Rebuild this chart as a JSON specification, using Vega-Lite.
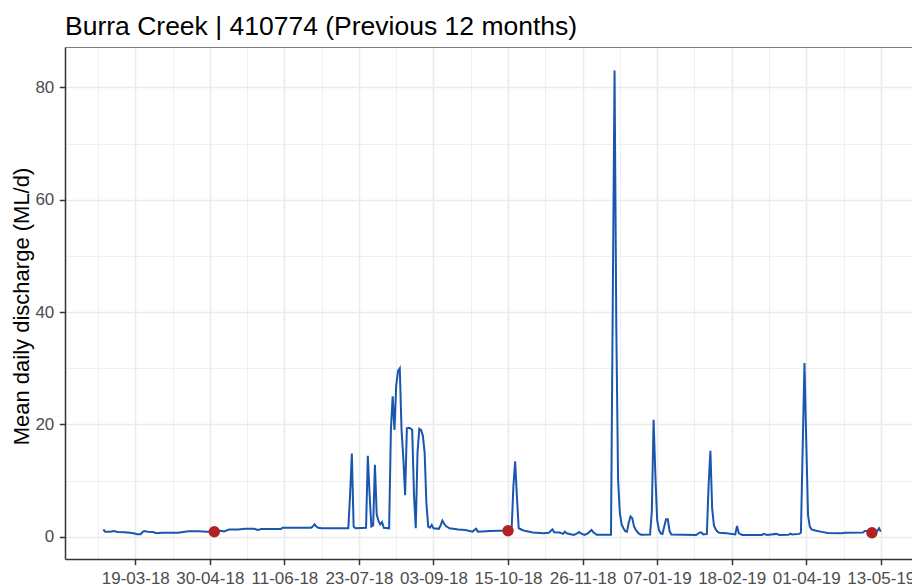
{
  "$schema": "https://vega.github.io/schema/vega-lite/v6.json",
  "width": 847,
  "height": 512,
  "autosize": {"type": "none"},
  "padding": {"left": 65, "top": 47, "right": 0, "bottom": 26},
  "background": "white",
  "title": {
    "text": "Burra Creek | 410774 (Previous 12 months)",
    "anchor": "start",
    "frame": "group",
    "font": "Liberation Sans",
    "fontSize": 26.5,
    "fontWeight": "normal",
    "color": "#000000",
    "baseline": "alphabetic",
    "offset": 14,
    "dy": 28
  },
  "config": {
    "view": {"stroke": null},
    "axis": {"labelFont": "Liberation Sans", "titleFont": "Liberation Sans"}
  },
  "datasets": {
    "flow": [
      {"date": "2018-03-01", "q": 1.3},
      {"date": "2018-03-02", "q": 0.9},
      {"date": "2018-03-05", "q": 0.9},
      {"date": "2018-03-07", "q": 1.0},
      {"date": "2018-03-09", "q": 0.85},
      {"date": "2018-03-13", "q": 0.8},
      {"date": "2018-03-16", "q": 0.7},
      {"date": "2018-03-18", "q": 0.6},
      {"date": "2018-03-20", "q": 0.45},
      {"date": "2018-03-22", "q": 0.45},
      {"date": "2018-03-23", "q": 0.8},
      {"date": "2018-03-24", "q": 1.0},
      {"date": "2018-03-26", "q": 0.9},
      {"date": "2018-03-29", "q": 0.85},
      {"date": "2018-03-30", "q": 0.7},
      {"date": "2018-03-31", "q": 0.6},
      {"date": "2018-04-03", "q": 0.7},
      {"date": "2018-04-08", "q": 0.7},
      {"date": "2018-04-12", "q": 0.7},
      {"date": "2018-04-15", "q": 0.85},
      {"date": "2018-04-18", "q": 0.95},
      {"date": "2018-04-24", "q": 0.95},
      {"date": "2018-04-28", "q": 0.9},
      {"date": "2018-05-02", "q": 0.9},
      {"date": "2018-05-04", "q": 0.95},
      {"date": "2018-05-06", "q": 1.05},
      {"date": "2018-05-08", "q": 0.95},
      {"date": "2018-05-09", "q": 1.05},
      {"date": "2018-05-11", "q": 1.3},
      {"date": "2018-05-16", "q": 1.3},
      {"date": "2018-05-20", "q": 1.4},
      {"date": "2018-05-25", "q": 1.4},
      {"date": "2018-05-27", "q": 1.2},
      {"date": "2018-05-29", "q": 1.35},
      {"date": "2018-06-09", "q": 1.35},
      {"date": "2018-06-10", "q": 1.6},
      {"date": "2018-06-26", "q": 1.6},
      {"date": "2018-06-27", "q": 1.8},
      {"date": "2018-06-28", "q": 2.2},
      {"date": "2018-06-29", "q": 1.8},
      {"date": "2018-06-30", "q": 1.6},
      {"date": "2018-07-02", "q": 1.5},
      {"date": "2018-07-17", "q": 1.5},
      {"date": "2018-07-18", "q": 7.4},
      {"date": "2018-07-19", "q": 14.8},
      {"date": "2018-07-20", "q": 1.8},
      {"date": "2018-07-21", "q": 1.5},
      {"date": "2018-07-27", "q": 1.6},
      {"date": "2018-07-28", "q": 14.4},
      {"date": "2018-07-29", "q": 7.5},
      {"date": "2018-07-30", "q": 1.8},
      {"date": "2018-07-31", "q": 2.0},
      {"date": "2018-08-01", "q": 12.8},
      {"date": "2018-08-02", "q": 4.0},
      {"date": "2018-08-03", "q": 2.8},
      {"date": "2018-08-04", "q": 2.2},
      {"date": "2018-08-05", "q": 2.6},
      {"date": "2018-08-06", "q": 1.6},
      {"date": "2018-08-09", "q": 1.5},
      {"date": "2018-08-10", "q": 19},
      {"date": "2018-08-11", "q": 25},
      {"date": "2018-08-12", "q": 19},
      {"date": "2018-08-13", "q": 27},
      {"date": "2018-08-14", "q": 29.5},
      {"date": "2018-08-15", "q": 30},
      {"date": "2018-08-16", "q": 19},
      {"date": "2018-08-17", "q": 14},
      {"date": "2018-08-18", "q": 7.4},
      {"date": "2018-08-19", "q": 19.3},
      {"date": "2018-08-20", "q": 19.4},
      {"date": "2018-08-21", "q": 19.3},
      {"date": "2018-08-22", "q": 19},
      {"date": "2018-08-23", "q": 7.5},
      {"date": "2018-08-24", "q": 1.5},
      {"date": "2018-08-25", "q": 15},
      {"date": "2018-08-26", "q": 19.2},
      {"date": "2018-08-27", "q": 19},
      {"date": "2018-08-28", "q": 18},
      {"date": "2018-08-29", "q": 15},
      {"date": "2018-08-30", "q": 6},
      {"date": "2018-08-31", "q": 1.8},
      {"date": "2018-09-01", "q": 1.6},
      {"date": "2018-09-02", "q": 2.1},
      {"date": "2018-09-03", "q": 1.5},
      {"date": "2018-09-06", "q": 1.4},
      {"date": "2018-09-07", "q": 2.0},
      {"date": "2018-09-08", "q": 2.85},
      {"date": "2018-09-09", "q": 2.3},
      {"date": "2018-09-10", "q": 1.9},
      {"date": "2018-09-12", "q": 1.5},
      {"date": "2018-09-17", "q": 1.3},
      {"date": "2018-09-21", "q": 1.2},
      {"date": "2018-09-25", "q": 0.9},
      {"date": "2018-09-27", "q": 1.4},
      {"date": "2018-09-28", "q": 0.9},
      {"date": "2018-10-05", "q": 1.0},
      {"date": "2018-10-10", "q": 1.05},
      {"date": "2018-10-15", "q": 1.07},
      {"date": "2018-10-17", "q": 1.2},
      {"date": "2018-10-18", "q": 8.9},
      {"date": "2018-10-19", "q": 13.4},
      {"date": "2018-10-20", "q": 7.1},
      {"date": "2018-10-21", "q": 1.5},
      {"date": "2018-10-23", "q": 1.2},
      {"date": "2018-10-25", "q": 1.0},
      {"date": "2018-10-29", "q": 0.75},
      {"date": "2018-11-04", "q": 0.6},
      {"date": "2018-11-07", "q": 0.7},
      {"date": "2018-11-09", "q": 1.3},
      {"date": "2018-11-10", "q": 0.8},
      {"date": "2018-11-13", "q": 0.75},
      {"date": "2018-11-15", "q": 0.5},
      {"date": "2018-11-16", "q": 0.9},
      {"date": "2018-11-17", "q": 0.6},
      {"date": "2018-11-21", "q": 0.3},
      {"date": "2018-11-23", "q": 0.6},
      {"date": "2018-11-24", "q": 0.85},
      {"date": "2018-11-25", "q": 0.6},
      {"date": "2018-11-27", "q": 0.3},
      {"date": "2018-11-29", "q": 0.6},
      {"date": "2018-12-01", "q": 1.2},
      {"date": "2018-12-02", "q": 0.8},
      {"date": "2018-12-04", "q": 0.35},
      {"date": "2018-12-12", "q": 0.35},
      {"date": "2018-12-13", "q": 42},
      {"date": "2018-12-14", "q": 83},
      {"date": "2018-12-15", "q": 37},
      {"date": "2018-12-16", "q": 10},
      {"date": "2018-12-17", "q": 4.2},
      {"date": "2018-12-18", "q": 2.2},
      {"date": "2018-12-19", "q": 1.5},
      {"date": "2018-12-20", "q": 1.0},
      {"date": "2018-12-21", "q": 0.9},
      {"date": "2018-12-22", "q": 2.5},
      {"date": "2018-12-23", "q": 3.6},
      {"date": "2018-12-24", "q": 3.3},
      {"date": "2018-12-25", "q": 1.8},
      {"date": "2018-12-26", "q": 1.2},
      {"date": "2018-12-27", "q": 0.8},
      {"date": "2018-12-28", "q": 0.5},
      {"date": "2018-12-29", "q": 0.35},
      {"date": "2019-01-03", "q": 0.4},
      {"date": "2019-01-04", "q": 4.5},
      {"date": "2019-01-05", "q": 20.8},
      {"date": "2019-01-06", "q": 11},
      {"date": "2019-01-07", "q": 3.0},
      {"date": "2019-01-08", "q": 1.2},
      {"date": "2019-01-09", "q": 0.6},
      {"date": "2019-01-10", "q": 0.5},
      {"date": "2019-01-11", "q": 1.8},
      {"date": "2019-01-12", "q": 3.1},
      {"date": "2019-01-13", "q": 3.1},
      {"date": "2019-01-14", "q": 1.0},
      {"date": "2019-01-15", "q": 0.4},
      {"date": "2019-01-29", "q": 0.3},
      {"date": "2019-01-31", "q": 0.75},
      {"date": "2019-02-01", "q": 0.75},
      {"date": "2019-02-02", "q": 0.4},
      {"date": "2019-02-04", "q": 0.5},
      {"date": "2019-02-05", "q": 9.2},
      {"date": "2019-02-06", "q": 15.3},
      {"date": "2019-02-07", "q": 5},
      {"date": "2019-02-08", "q": 2.0},
      {"date": "2019-02-09", "q": 1.3},
      {"date": "2019-02-10", "q": 0.9},
      {"date": "2019-02-11", "q": 0.7},
      {"date": "2019-02-15", "q": 0.6},
      {"date": "2019-02-20", "q": 0.4},
      {"date": "2019-02-21", "q": 1.9},
      {"date": "2019-02-22", "q": 0.6},
      {"date": "2019-02-24", "q": 0.3},
      {"date": "2019-03-07", "q": 0.3},
      {"date": "2019-03-08", "q": 0.5},
      {"date": "2019-03-10", "q": 0.3},
      {"date": "2019-03-15", "q": 0.5},
      {"date": "2019-03-17", "q": 0.3},
      {"date": "2019-03-22", "q": 0.35},
      {"date": "2019-03-23", "q": 0.55},
      {"date": "2019-03-24", "q": 0.4},
      {"date": "2019-03-28", "q": 0.5},
      {"date": "2019-03-29", "q": 0.7},
      {"date": "2019-03-30", "q": 16},
      {"date": "2019-03-31", "q": 30.9},
      {"date": "2019-04-01", "q": 17},
      {"date": "2019-04-02", "q": 3.9},
      {"date": "2019-04-03", "q": 1.8},
      {"date": "2019-04-04", "q": 1.3},
      {"date": "2019-04-06", "q": 1.1},
      {"date": "2019-04-09", "q": 0.9},
      {"date": "2019-04-13", "q": 0.65},
      {"date": "2019-04-21", "q": 0.6},
      {"date": "2019-04-23", "q": 0.7},
      {"date": "2019-05-03", "q": 0.75},
      {"date": "2019-05-04", "q": 1.0},
      {"date": "2019-05-06", "q": 1.0},
      {"date": "2019-05-08", "q": 0.75},
      {"date": "2019-05-10", "q": 0.8},
      {"date": "2019-05-11", "q": 1.0},
      {"date": "2019-05-12", "q": 1.5},
      {"date": "2019-05-13", "q": 0.9}
    ],
    "samples": [
      {"date": "2018-05-02T12:00:00Z", "q": 0.89},
      {"date": "2018-10-15T00:00:00Z", "q": 1.07},
      {"date": "2019-05-08T00:00:00Z", "q": 0.71}
    ]
  },
  "layer": [
    {
      "data": {"name": "flow"},
      "mark": {"type": "line", "color": "#1a56ad", "strokeWidth": 2},
      "encoding": {
        "x": {
          "field": "date",
          "type": "temporal",
          "scale": {
            "type": "utc",
            "domain": [
              {"year": 2018, "month": 2, "date": 7, "hours": 9, "minutes": 27, "utc": true},
              {"year": 2019, "month": 5, "date": 30, "hours": 13, "minutes": 55, "utc": true}
            ]
          },
          "axis": {
            "orient": "bottom",
            "title": null,
            "values": [
              {"year": 2018, "month": 3, "date": 19, "utc": true},
              {"year": 2018, "month": 4, "date": 30, "utc": true},
              {"year": 2018, "month": 6, "date": 11, "utc": true},
              {"year": 2018, "month": 7, "date": 23, "utc": true},
              {"year": 2018, "month": 9, "date": 3, "utc": true},
              {"year": 2018, "month": 10, "date": 15, "utc": true},
              {"year": 2018, "month": 11, "date": 26, "utc": true},
              {"year": 2019, "month": 1, "date": 7, "utc": true},
              {"year": 2019, "month": 2, "date": 18, "utc": true},
              {"year": 2019, "month": 4, "date": 1, "utc": true},
              {"year": 2019, "month": 5, "date": 13, "utc": true}
            ],
            "labelExpr": "utcFormat(datum.value, '%d-%m-%y')",
            "grid": true,
            "gridColor": "#ebebeb",
            "gridWidth": 1.6,
            "domainColor": "#333333",
            "domainWidth": 1.5,
            "tickColor": "#333333",
            "tickWidth": 1.5,
            "tickSize": 5.7,
            "labelFontSize": 17,
            "labelColor": "#4d4d4d",
            "labelPadding": 5.8,
            "labelFlush": false,
            "labelOverlap": false,
            "labelBound": false
          }
        },
        "y": {
          "field": "q",
          "type": "quantitative",
          "scale": {"domain": [-3.97, 87.18], "nice": false, "zero": false},
          "axis": {
            "orient": "left",
            "values": [0, 20, 40, 60, 80],
            "title": "Mean daily discharge (ML/d)",
            "titleFontSize": 22,
            "titleFontWeight": "normal",
            "titleColor": "#000000",
            "titleAngle": 270,
            "titleAlign": "center",
            "titleBaseline": "alphabetic",
            "titleX": -36.3,
            "titleY": 259,
            "grid": true,
            "gridColor": "#ebebeb",
            "gridWidth": 1.6,
            "domainColor": "#333333",
            "domainWidth": 1.5,
            "tickColor": "#333333",
            "tickWidth": 1.5,
            "tickSize": 5.7,
            "labelFontSize": 17,
            "labelColor": "#4d4d4d",
            "labelPadding": 5.5
          }
        }
      }
    },
    {
      "data": {"name": "samples"},
      "mark": {"type": "circle", "color": "#b22222", "size": 130, "opacity": 1},
      "encoding": {
        "x": {
          "field": "date",
          "type": "temporal",
          "scale": {
            "type": "utc",
            "domain": [
              {"year": 2018, "month": 2, "date": 7, "hours": 9, "minutes": 27, "utc": true},
              {"year": 2019, "month": 5, "date": 30, "hours": 13, "minutes": 55, "utc": true}
            ]
          },
          "axis": {
            "orient": "top",
            "title": null,
            "values": [
              {"year": 2018, "month": 2, "date": 26, "utc": true},
              {"year": 2018, "month": 4, "date": 9, "utc": true},
              {"year": 2018, "month": 5, "date": 21, "utc": true},
              {"year": 2018, "month": 7, "date": 2, "utc": true},
              {"year": 2018, "month": 8, "date": 13, "utc": true},
              {"year": 2018, "month": 9, "date": 24, "utc": true},
              {"year": 2018, "month": 11, "date": 5, "utc": true},
              {"year": 2018, "month": 12, "date": 17, "utc": true},
              {"year": 2019, "month": 1, "date": 28, "utc": true},
              {"year": 2019, "month": 3, "date": 11, "utc": true},
              {"year": 2019, "month": 4, "date": 22, "utc": true}
            ],
            "labels": false,
            "ticks": false,
            "grid": true,
            "gridColor": "#ebebeb",
            "gridWidth": 0.8,
            "domain": true,
            "domainColor": "#7f7f7f",
            "domainWidth": 1.2
          }
        },
        "y": {
          "field": "q",
          "type": "quantitative",
          "scale": {"domain": [-3.97, 87.18], "nice": false, "zero": false},
          "axis": {
            "orient": "right",
            "title": null,
            "values": [10, 30, 50, 70],
            "labels": false,
            "ticks": false,
            "domain": false,
            "grid": true,
            "gridColor": "#ebebeb",
            "gridWidth": 0.8
          }
        }
      }
    }
  ],
  "resolve": {"axis": {"x": "independent", "y": "independent"}}
}
